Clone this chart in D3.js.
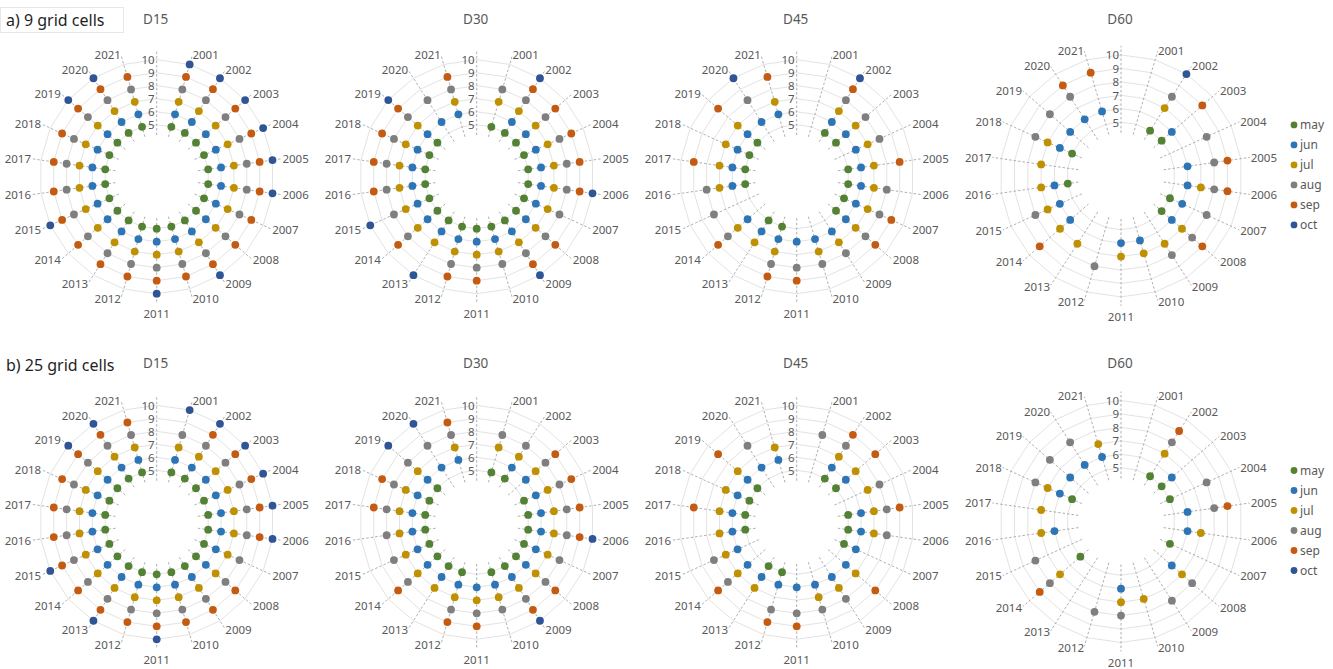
<!DOCTYPE html>
<html>
<head>
<meta charset="utf-8">
<script src="https://cdn.jsdelivr.net/npm/d3@7"></script>
<style>
  body { margin: 0; background: #ffffff; }
  svg { display: block; font-family: "Segoe UI", "Noto Sans", "Open Sans", sans-serif; }
</style>
</head>
<body>
<svg id="chart" width="1333" height="669"></svg>
<script>
// ---- data -------------------------------------------------------------
const years = ["2001","2002","2003","2004","2005","2006","2007","2008","2009","2010","2011",
               "2012","2013","2014","2015","2016","2017","2018","2019","2020","2021"];
const monthNames  = ["may", "jun", "jul", "aug", "sep", "oct"];
const monthValues = [5, 6, 7, 8, 9, 10];
const tickValues  = [5, 6, 7, 8, 9, 10];
const panelTitles = ["D15", "D30", "D45", "D60"];
const rowTitles   = ["a) 9 grid cells", "b) 25 grid cells"];

// months (5 = may … 10 = oct) recorded in each year, 2001 → 2021
const cells9_D15 = [
  [5,6,7,8,9,10],[5,6,7,8,9,10],[5,6,7,8,9,10],[5,6,7,8,9,10],[5,6,7,8,9,10],[5,6,7,8,9,10],
  [5,6,7,8,9],[5,6,7,8,9],[5,6,7,8,9,10],[5,6,7,8,9],[5,6,7,8,9,10],
  [5,6,7,8,9],[5,6,7,8,9],[5,6,7,8,9],[5,6,7,8,9,10],[5,6,7,8,9],[5,6,7,8,9],[5,6,7,8,9],
  [5,6,7,8,9,10],[5,6,7,8,9,10],[5,6,7,8,9]
];
const cells9_D30 = [
  [5,7,8],[5,6,7,8,9,10],[5,6,7,8,9],[5,6,7,8,9],[5,6,7,8,9],[5,6,7,8,9,10],
  [5,6,7,8],[5,6,7,8,9],[5,6,7,8,9,10],[5,6,7,8],[5,6,7,8,9],
  [5,6,7,8,9],[5,6,7,10],[5,6,7,8,9],[5,6,7,8,10],[5,6,7,8,9],[5,6,7,8,9],[5,6,7,8,9],
  [5,6,7,8,9,10],[6,8],[6,7,8,9]
];
const cells9_D45 = [
  [],[5,6,7,8,9,10],[5,6,7,8],[6,7,8],[5,6,7,9],[5,6,7,8],
  [5,6,7,8,9],[5,6,7,8,9],[6,7,8],[6,7,8],[6,8,9],
  [5,6,7,8,9],[5,6,7],[6,7,8,9],[8],[5,6,7,8],[5,6,7,9],[5,6,7],
  [5,6,7,9],[6,8,10],[6,7,9]
];
const cells9_D60 = [
  [],[5,7,8,10],[5,6,9],[8],[6,8,9],[6,7,8,9],
  [5,6,8],[5,6,7,8,9],[7,8],[6,7],[6,7],
  [8],[7],[6,7,9],[6,7,8],[5,6,7],[7],[5,6,7,8],
  [6,8],[6,8,9],[6,9]
];
const cells25_D15 = [
  [5,6,7,8,10],[5,6,7,8,9,10],[5,6,7,8,9,10],[5,6,7,8,9,10],[5,6,7,8,9,10],[5,6,7,8,9,10],
  [5,6,7,8],[5,6,7,8,9],[5,6,7,8,9],[5,6,7,8,9],[5,6,7,8,9,10],
  [5,6,7,8,9],[5,6,7,8,9,10],[5,6,7,8,9],[5,6,7,8,9,10],[5,6,7,8,9],[5,6,7,8,9],[5,6,7,8,9],
  [5,6,7,8,9,10],[5,6,7,8,9,10],[5,6,7,8,9]
];
const cells25_D30 = [
  [5,7,8],[5,6,7,8],[6,7,8,9],[5,6,7,8,9],[5,6,7,8,9],[5,6,7,8,9,10],
  [5,6,7,8],[5,6,7,8,9],[5,6,7,8,9,10],[5,6,7,8],[6,7,8,9],
  [5,6,7,8,9],[5,6,7],[5,6,7,8,9],[5,6,7,8],[5,6,7,8],[5,6,7,8,9],[5,6,7,8,9],
  [5,6,7,8,10],[6,8,10],[6,7,8,9]
];
const cells25_D45 = [
  [8],[5,6,7,8,9],[5,6,7,9],[7,8],[5,6,7,8,9],[5,6,7,8],
  [5,6],[6,7,9],[6,7,8],[6,7,8],[6,8,9],
  [5,6,8,9],[5,6,7],[6,7,8,9],[6,7,8],[5,6,7],[5,6,7,9],[5,6,7],
  [5,6,7,9],[6,8],[6,7]
];
const cells25_D60 = [
  [],[5,7,8,9],[5,6],[5,8],[6,8,9],[6,7],
  [5],[6,7,8],[8],[7],[6,7,8],
  [8],[],[5,7,8,9],[8],[6,7],[7],[5,6,7,8],
  [6,8],[6,8],[6,7]
];

// ---- styling -----------------------------------------------------------
const monthColors = ["#548235", "#2e75b6", "#bf9000", "#7f7f7f", "#c55a11", "#2f5597"];
const textGrey = "#595959";

// ---- layout ------------------------------------------------------------
const panelCx = [156.7, 476.7, 796.7, 1121];
const rowCy   = [176.7, 522.3];
const rowTitleY = [18.5, 362.5];
const rows = [
  [cells9_D15, cells9_D30, cells9_D45, cells9_D60],
  [cells25_D15, cells25_D30, cells25_D45, cells25_D60]
];

const svg = d3.select("#chart");
const nCat = years.length + 1;              // an unlabelled category sits at the top
const angle = d3.scaleLinear().domain([0, nCat]).range([0, 2 * Math.PI]);
const cats = d3.range(nCat);

function drawPanel(data, cx, cy, R, title, titleY, withLegend) {
  const g = svg.append("g").attr("transform", `translate(${cx},${cy})`);
  const r = d3.scaleLinear().domain([1, 10]).range([0, R]);

  // value rings
  const ring = d3.lineRadial().angle(i => angle(i)).curve(d3.curveLinearClosed);
  g.append("g").selectAll("path").data(tickValues).join("path")
    .attr("d", v => ring.radius(r(v))(cats))
    .attr("fill", "none")
    .attr("stroke", "#e3e3e3")
    .attr("stroke-width", 1);

  // dashed category spokes
  g.append("g").selectAll("line").data(cats).join("line")
    .each(function (i) {
      const [x1, y1] = d3.pointRadial(angle(i), r(4.2));
      const [x2, y2] = d3.pointRadial(angle(i), R + 9);
      d3.select(this).attr("x1", x1).attr("y1", y1).attr("x2", x2).attr("y2", y2);
    })
    .attr("stroke", "#9a9a9a")
    .attr("stroke-width", 0.8)
    .attr("stroke-dasharray", "2.5,2");

  // year labels
  g.append("g").selectAll("text").data(years).join("text")
    .each(function (y, k) {
      const a = angle(k + 1);
      const s = Math.sin(a), c = Math.cos(a);
      const [x, yy] = d3.pointRadial(a, R + 10);
      d3.select(this)
        .attr("x", x)
        .attr("y", yy + (Math.abs(s) < 0.05 ? -c * 10 : 0))
        .attr("text-anchor", s > 0.05 ? "start" : (s < -0.05 ? "end" : "middle"));
    })
    .attr("dominant-baseline", "central")
    .attr("font-size", 11.5)
    .attr("fill", textGrey)
    .text(d => d);

  // tick labels on the top spoke
  g.append("g").selectAll("text").data(tickValues).join("text")
    .attr("x", -2)
    .attr("y", v => -r(v))
    .attr("text-anchor", "end")
    .attr("dominant-baseline", "central")
    .attr("font-size", 11.5)
    .attr("fill", textGrey)
    .text(d => d);

  // points: one per recorded month and year
  const pts = [];
  data.forEach((months, k) => months.forEach(v => pts.push({ i: k + 1, v })));
  g.append("g").selectAll("circle").data(pts).join("circle")
    .attr("cx", d => d3.pointRadial(angle(d.i), r(d.v))[0])
    .attr("cy", d => d3.pointRadial(angle(d.i), r(d.v))[1])
    .attr("r", 3.9)
    .attr("fill", d => monthColors[monthValues.indexOf(d.v)]);

  // panel title
  svg.append("text")
    .attr("x", cx - 1).attr("y", titleY)
    .attr("text-anchor", "middle")
    .attr("dominant-baseline", "central")
    .attr("font-size", 13.5)
    .attr("fill", textGrey)
    .text(title);

  if (withLegend) {
    const lg = svg.append("g").attr("transform", `translate(1294,${cy - 51})`);
    const item = lg.selectAll("g").data(monthNames).join("g")
      .attr("transform", (d, i) => `translate(0,${i * 20})`);
    item.append("circle").attr("r", 3.4).attr("fill", (d, i) => monthColors[i]);
    item.append("text")
      .attr("x", 6).attr("dominant-baseline", "central")
      .attr("font-size", 12).attr("fill", textGrey)
      .text(d => d);
  }
}

rows.forEach((row, ri) => {
  row.forEach((data, pi) => {
    const isLast = pi === row.length - 1;
    const R = isLast ? 121 : 117;
    const cy = rowCy[ri] - (isLast ? 0.8 : 0);
    drawPanel(data, panelCx[pi], cy, R, panelTitles[pi], rowTitleY[ri], isLast);
  });
});

// row titles
svg.append("rect")
  .attr("x", 0.5).attr("y", 7.5).attr("width", 123).attr("height", 25)
  .attr("fill", "#ffffff").attr("stroke", "#e6e6e6");
svg.selectAll("text.rowTitle").data(rowTitles).join("text")
  .attr("class", "rowTitle")
  .attr("x", 6)
  .attr("y", (d, i) => i === 0 ? 20 : 364.5)
  .attr("dominant-baseline", "central")
  .attr("font-size", 16)
  .attr("fill", "#1f1f1f")
  .text(d => d);
</script>
</body>
</html>
